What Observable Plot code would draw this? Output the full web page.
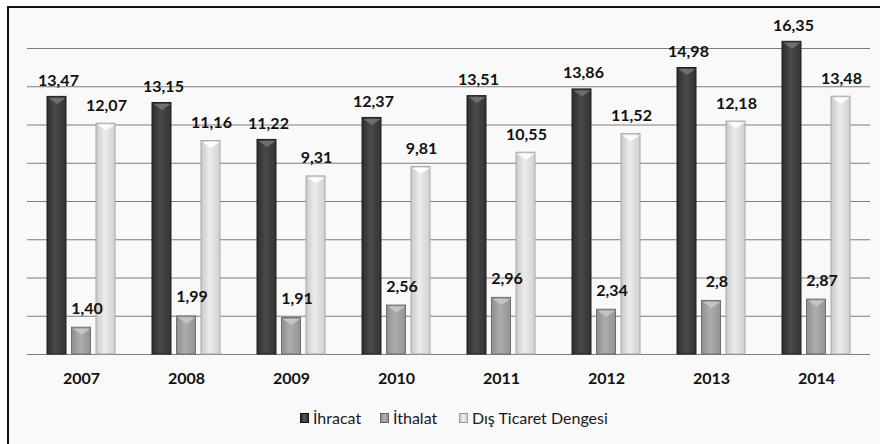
<!DOCTYPE html>
<html>
<head>
<meta charset="utf-8">
<script src="https://cdn.jsdelivr.net/npm/d3@7"></script>
<script src="https://cdn.jsdelivr.net/npm/@observablehq/plot@0.6"></script>
<style>
  html, body { margin: 0; padding: 0; background: #ffffff; overflow: hidden; width: 880px; height: 444px; }
  #frame { position: absolute; left: 7px; top: 6px; width: 900px; height: 460px;
           border-left: 2px solid #111; border-top: 2px solid #111; background: #f9f9f9; }
  #chart { position: absolute; left: 0; top: 0; }
  #legend { position: absolute; top: 408px; left: 0; width: 880px; height: 20px;
            font-family: Lato, "Open Sans", sans-serif; font-size: 16px; color: #1a1a1a; }
  .item { position: absolute; top: 0; display: flex; align-items: center; white-space: nowrap; }
  .sw { width: 7px; height: 8px; margin-right: 4px; border: 1px solid #555; }
</style>
</head>
<body>
<div id="frame"></div>
<div id="chart"></div>
<div id="legend"></div>
<script>
const years = ["2007", "2008", "2009", "2010", "2011", "2012", "2013", "2014"];
const series = ["İhracat", "İthalat", "Dış Ticaret Dengesi"];
const ihracat = [13.47, 13.15, 11.22, 12.37, 13.51, 13.86, 14.98, 16.35];
const ithalat = [1.40, 1.99, 1.91, 2.56, 2.96, 2.34, 2.80, 2.87];
const denge = [12.07, 11.16, 9.31, 9.81, 10.55, 11.52, 12.18, 13.48];
const ihracatLabels = ["13,47", "13,15", "11,22", "12,37", "13,51", "13,86", "14,98", "16,35"];
const ithalatLabels = ["1,40", "1,99", "1,91", "2,56", "2,96", "2,34", "2,8", "2,87"];
const dengeLabels = ["12,07", "11,16", "9,31", "9,81", "10,55", "11,52", "12,18", "13,48"];
const yTicks = [0, 2, 4, 6, 8, 10, 12, 14, 16];

const valuesBySeries = [ihracat, ithalat, denge];
const labelsBySeries = [ihracatLabels, ithalatLabels, dengeLabels];
const data = years.flatMap((year, i) =>
  series.map((s, k) => ({year, series: s, k, value: valuesBySeries[k][i], label: labelsBySeries[k][i]}))
);

// styles per series
const strokes = ["#1e1e1e", "#6e6e6e", "#a8a8a8"];
const capFill = ["#6e6e6e", "#c4c4c4", "#fdfdfd"];
const insetL = [0, 24.5, 49];
const insetR = [49, 24.5, 0];
const centerDx = [-24.5, 0, 24.5];
const labelDx = [-23, 5.5, 25];
const labelDy = [-11, -14, -13];

const flatTri = {
  draw(context) {
    context.moveTo(-8.5, 0);
    context.lineTo(8.5, 0);
    context.lineTo(0, 6);
    context.closePath();
  }
};

const barMarks = [];
const labelMarks = [];
series.forEach((s, k) => {
  const rows = data.filter(d => d.k === k);
  barMarks.push(
    Plot.barY(rows, {x: "year", y: "value", fill: `url(#g${k})`, stroke: strokes[k], strokeWidth: 1,
                     insetLeft: insetL[k], insetRight: insetR[k]}),
    Plot.dot(rows, {x: "year", y: "value", symbol: flatTri, r: 5, fill: capFill[k], stroke: "none",
                    dx: centerDx[k], dy: 1})
  );
  labelMarks.push(
    Plot.text(rows, {x: "year", y: "value", text: "label", dx: labelDx[k], dy: labelDy[k],
                     lineAnchor: "bottom", fontSize: 16, fontWeight: "bold", fill: "#111"})
  );
});

const chart = Plot.plot({
  width: 880,
  height: 400,
  marginLeft: 27,
  marginRight: 10,
  marginTop: 48,
  marginBottom: 46,
  style: {background: "transparent", fontFamily: "Lato, 'Open Sans', sans-serif", overflow: "visible"},
  x: {type: "band", domain: years, paddingInner: 0.355, paddingOuter: 0.178, label: null},
  y: {domain: [0, 16], axis: null},
  marks: [
    Plot.gridY(yTicks, {stroke: "#7d7d7d", strokeOpacity: 1, strokeWidth: 1}),
    ...barMarks,
    ...labelMarks,
    Plot.axisX({tickSize: 0, tickPadding: 18, fontSize: 16, fontWeight: "bold", fill: "#111"})
  ]
});

d3.select(chart).insert("defs", ":first-child").html(`
  <linearGradient id="g0" x1="0" x2="1" y1="0" y2="0">
    <stop offset="0" stop-color="#2e2e2e"/><stop offset="0.45" stop-color="#4a4a4a"/><stop offset="1" stop-color="#333333"/>
  </linearGradient>
  <linearGradient id="g1" x1="0" x2="1" y1="0" y2="0">
    <stop offset="0" stop-color="#8e8e8e"/><stop offset="0.45" stop-color="#adadad"/><stop offset="1" stop-color="#939393"/>
  </linearGradient>
  <linearGradient id="g2" x1="0" x2="1" y1="0" y2="0">
    <stop offset="0" stop-color="#c9c9c9"/><stop offset="0.45" stop-color="#ececec"/><stop offset="1" stop-color="#d0d0d0"/>
  </linearGradient>
`);
document.getElementById("chart").appendChild(chart);

// legend
const legendLeft = [300, 380, 459];
const swatch = ["linear-gradient(90deg,#2e2e2e,#555,#333)", "linear-gradient(90deg,#8e8e8e,#b0b0b0,#939393)", "linear-gradient(90deg,#c9c9c9,#eee,#d0d0d0)"];
const swBorder = ["#111", "#666", "#999"];
const legend = d3.select("#legend");
series.forEach((s, k) => {
  const item = legend.append("div").attr("class", "item").style("left", legendLeft[k] + "px");
  item.append("div").attr("class", "sw").style("background", swatch[k]).style("border-color", swBorder[k]);
  item.append("span").text(s);
});
</script>
</body>
</html>
